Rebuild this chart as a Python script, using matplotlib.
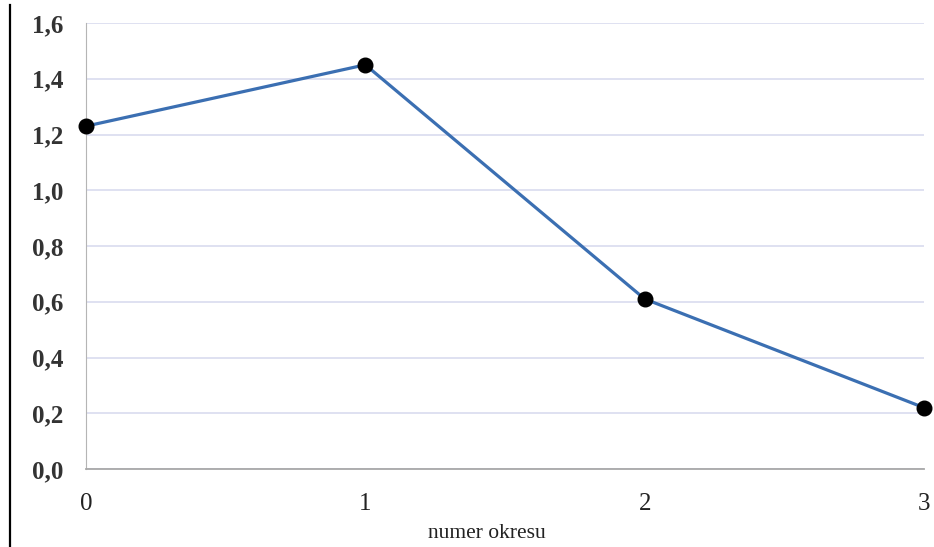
import matplotlib
matplotlib.use('Agg')
import matplotlib.pyplot as plt
from matplotlib.lines import Line2D
from matplotlib.ticker import FuncFormatter

# dane: numer okresu i wartości
okresy = [0, 1, 2, 3]
wartosci = [1.23, 1.45, 0.61, 0.22]
y_ticks = [0.0, 0.2, 0.4, 0.6, 0.8, 1.0, 1.2, 1.4, 1.6]

plt.rcParams['font.family'] = ['Liberation Serif', 'DejaVu Serif']

fig = plt.figure(figsize=(9.34, 5.47), dpi=100, facecolor='white')
ax = fig.add_axes([86 / 934, 78 / 547, 838 / 934, 446 / 547])

ax.plot(okresy, wartosci, color='#3b6fb2', lw=2.3, zorder=3,
        marker='o', markersize=10.5, markerfacecolor='black',
        markeredgecolor='black', clip_on=False)

ax.set_xlim(0, 3)
ax.set_ylim(0, 1.6)
ax.set_xticks(okresy)
ax.set_yticks(y_ticks)
ax.yaxis.set_major_formatter(FuncFormatter(lambda v, p: f'{v:.1f}'.replace('.', ',')))

ax.grid(axis='y', color='#d6d8ee', lw=1.1)
ax.set_axisbelow(True)
for s in ['top', 'right']:
    ax.spines[s].set_visible(False)
ax.spines['left'].set_color('#b5b5b5')
ax.spines['bottom'].set_color('#a8a8a8')
ax.spines['bottom'].set_linewidth(1.3)

ax.tick_params(axis='both', length=0, labelsize=18, colors='#222222')
ax.tick_params(axis='y', pad=16)
ax.tick_params(axis='x', pad=17)
for t in ax.get_yticklabels():
    t.set_fontweight('bold')
    t.set_color('#333333')

ax.set_xlabel('numer okresu', fontsize=15.5, color='#222222', va='center')
ax.xaxis.set_label_coords((487 - 86) / 838, -(533 - 469) / 446)

# pionowa linia przy lewej krawędzi
fig.add_artist(Line2D([10 / 934, 10 / 934], [0, 542 / 547],
                      transform=fig.transFigure, color='black', lw=1.6))

plt.savefig('out.png', dpi=100, facecolor='white')
plt.close(fig)
